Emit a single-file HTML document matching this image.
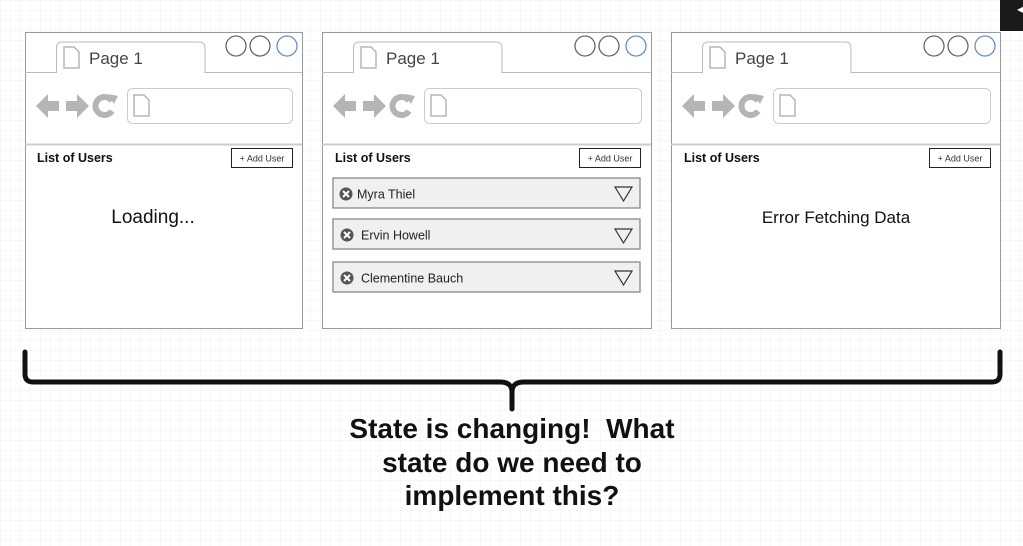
<!DOCTYPE html>
<html><head><meta charset="utf-8"><style>
html,body{margin:0;padding:0;background:#fff}
svg{display:block}
text{font-family:"Liberation Sans",Arial,sans-serif}
</style></head><body>
<svg width="1023" height="546" viewBox="0 0 1023 546" xmlns="http://www.w3.org/2000/svg">
<defs>
<pattern id="g" width="10" height="10" patternUnits="userSpaceOnUse">
<path d="M10 0H0V10" fill="none" stroke="#f1f1f1" stroke-width="1"/>
</pattern>
<g id="arrows">
<path d="M0 0 l12 -12 v7 h11 v10 h-11 v7z" fill="#b5b5b5"/>
<path d="M53 0 l-12 -12 v7 h-11 v10 h11 v7z" fill="#b5b5b5"/>
<path d="M76 -5 a9 9 0 1 0 0 10" fill="none" stroke="#b5b5b5" stroke-width="6"/>
<path d="M72 -12 l10 2 l-4 8z" fill="#b5b5b5"/>
</g>
<g id="doc">
<path d="M0 0 h10 l5 5 v16 h-15z" fill="#fff" stroke="#b5b5b5" stroke-width="1.5"/>
</g>
<g id="xic">
<circle r="6.5" fill="#555"/>
<path d="M-3 -3L3 3M3 -3L-3 3" stroke="#fff" stroke-width="2"/>
</g>
</defs>
<rect width="1023" height="546" fill="url(#g)"/>
<rect x="1000" y="0" width="23" height="31" fill="#1a1a1a"/>
<text x="1017" y="13" font-size="12" fill="#fff">&#9664;</text>

<!-- Window 1 -->
<rect x="25.5" y="32.5" width="277" height="296" fill="#fff" stroke="#999"/>
<path d="M25 72.5 H56.5 V48 q0 -6 6 -6 H199 q6 0 6 6 V72.5 H302" fill="#fff" stroke="#bbb"/>
<use href="#doc" x="64" y="47"/>
<text x="89" y="64" font-size="17" fill="#444">Page 1</text>
<circle cx="236" cy="46" r="10" fill="#fff" stroke="#666" stroke-width="1.3"/>
<circle cx="260" cy="46" r="10" fill="#fff" stroke="#666" stroke-width="1.3"/>
<circle cx="287" cy="46" r="10" fill="#fff" stroke="#5b8fe0" stroke-width="1.3"/>
<use href="#arrows" x="36" y="106"/>
<rect x="127.5" y="88.5" width="165" height="35" rx="5" fill="#fff" stroke="#ccc"/>
<use href="#doc" x="134" y="95"/>
<line x1="25" y1="144.5" x2="302" y2="144.5" stroke="#ccc" stroke-width="2"/>
<text x="37" y="162" font-size="12.5" font-weight="bold" fill="#111">List of Users</text>
<rect x="231.5" y="148.5" width="61" height="19" fill="#fff" stroke="#222"/>
<text x="262" y="161.5" font-size="9" fill="#333" text-anchor="middle">+ Add User</text>
<text x="153" y="223" font-size="19" fill="#111" text-anchor="middle">Loading...</text>

<!-- Window 2 -->
<rect x="322.5" y="32.5" width="329" height="296" fill="#fff" stroke="#999"/>
<path d="M322 72.5 H353.5 V48 q0 -6 6 -6 H496 q6 0 6 6 V72.5 H651" fill="#fff" stroke="#bbb"/>
<use href="#doc" x="361" y="47"/>
<text x="386" y="64" font-size="17" fill="#444">Page 1</text>
<circle cx="585" cy="46" r="10" fill="#fff" stroke="#666" stroke-width="1.3"/>
<circle cx="609" cy="46" r="10" fill="#fff" stroke="#666" stroke-width="1.3"/>
<circle cx="636" cy="46" r="10" fill="#fff" stroke="#5b8fe0" stroke-width="1.3"/>
<use href="#arrows" x="333" y="106"/>
<rect x="424.5" y="88.5" width="217" height="35" rx="5" fill="#fff" stroke="#ccc"/>
<use href="#doc" x="431" y="95"/>
<line x1="322" y1="144.5" x2="651" y2="144.5" stroke="#ccc" stroke-width="2"/>
<text x="335" y="162" font-size="12.5" font-weight="bold" fill="#111">List of Users</text>
<rect x="579.5" y="148.5" width="61" height="19" fill="#fff" stroke="#222"/>
<text x="610" y="161.5" font-size="9" fill="#333" text-anchor="middle">+ Add User</text>
<rect x="333" y="178" width="307" height="30" fill="#f0f0f0" stroke="#888" stroke-width="1.3"/>
<use href="#xic" x="346" y="194"/>
<text x="357" y="198.5" font-size="12.5" fill="#222">Myra Thiel</text>
<path d="M615 187 h17 l-8.5 14z" fill="none" stroke="#333" stroke-width="1.2"/>
<rect x="333" y="219" width="307" height="30" fill="#f0f0f0" stroke="#888" stroke-width="1.3"/>
<use href="#xic" x="347" y="235"/>
<text x="361" y="239.5" font-size="12.5" fill="#222">Ervin Howell</text>
<path d="M615 229 h17 l-8.5 14z" fill="none" stroke="#333" stroke-width="1.2"/>
<rect x="333" y="262" width="307" height="30" fill="#f0f0f0" stroke="#888" stroke-width="1.3"/>
<use href="#xic" x="347" y="278"/>
<text x="361" y="282.5" font-size="12.5" fill="#222">Clementine Bauch</text>
<path d="M615 271 h17 l-8.5 14z" fill="none" stroke="#333" stroke-width="1.2"/>

<!-- Window 3 -->
<rect x="671.5" y="32.5" width="329" height="296" fill="#fff" stroke="#999"/>
<path d="M671 72.5 H702.5 V48 q0 -6 6 -6 H845 q6 0 6 6 V72.5 H1000" fill="#fff" stroke="#bbb"/>
<use href="#doc" x="710" y="47"/>
<text x="735" y="64" font-size="17" fill="#444">Page 1</text>
<circle cx="934" cy="46" r="10" fill="#fff" stroke="#666" stroke-width="1.3"/>
<circle cx="958" cy="46" r="10" fill="#fff" stroke="#666" stroke-width="1.3"/>
<circle cx="985" cy="46" r="10" fill="#fff" stroke="#5b8fe0" stroke-width="1.3"/>
<use href="#arrows" x="682" y="106"/>
<rect x="773.5" y="88.5" width="217" height="35" rx="5" fill="#fff" stroke="#ccc"/>
<use href="#doc" x="780" y="95"/>
<line x1="671" y1="144.5" x2="1000" y2="144.5" stroke="#ccc" stroke-width="2"/>
<text x="684" y="162" font-size="12.5" font-weight="bold" fill="#111">List of Users</text>
<rect x="929.5" y="148.5" width="61" height="19" fill="#fff" stroke="#222"/>
<text x="960" y="161.5" font-size="9" fill="#333" text-anchor="middle">+ Add User</text>
<text x="836" y="223" font-size="17" fill="#111" text-anchor="middle">Error Fetching Data</text>

<!-- Bracket -->
<path d="M25 352 V374 q0 8 8 8 H500 q12 0 12 10 V409 M512 392 q0 -10 12 -10 H992 q8 0 8 -8 V352" fill="none" stroke="#111" stroke-width="5" stroke-linecap="round" stroke-linejoin="round"/>

<g font-size="28" font-weight="bold" fill="#111" text-anchor="middle">
<text x="512" y="438" xml:space="preserve">State is changing!  What</text>
<text x="512" y="472">state do we need to</text>
<text x="512" y="505">implement this?</text>
</g>
</svg>
</body></html>
